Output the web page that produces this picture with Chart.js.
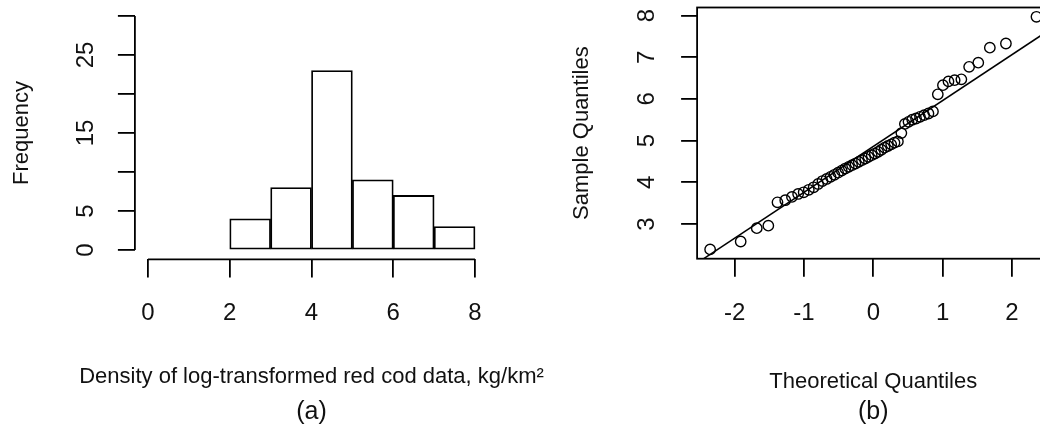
<!DOCTYPE html>
<html><head><meta charset="utf-8">
<script src="https://cdn.jsdelivr.net/npm/chart.js@4.4.1/dist/chart.umd.min.js"></script>
<style>
html,body{margin:0;padding:0;background:#fff;overflow:hidden;width:1040px;height:430px;}
#wrap{position:relative;width:1040px;height:430px;overflow:hidden;background:#fff;}
canvas{position:absolute;top:0;}
#c1{left:0;} #c2{left:520px;}
</style></head><body>
<div id="wrap"><canvas id="c1" width="623" height="430"></canvas><canvas id="c2" width="540" height="430"></canvas></div>
<script>
// ---- (a) histogram data ----
const histBinCenters = [2.5, 3.5, 4.5, 5.5, 6.5, 7.5];
const histCounts = [4, 8, 23, 9, 7, 3];
const histXTicks = [0, 2, 4, 6, 8];
const histYTicks = [0, 5, 10, 15, 20, 25, 30];
const histYLabels = ['0', '5', '', '15', '', '25', ''];

// ---- (b) normal Q-Q plot data ----
const qqTheoretical = [-2.355, -1.914, -1.682, -1.515, -1.383, -1.271, -1.174, -1.085, -1.005, -0.931,
  -0.861, -0.796, -0.734, -0.674, -0.617, -0.562, -0.508, -0.456, -0.405, -0.355,
  -0.306, -0.258, -0.210, -0.163, -0.116, -0.070, -0.023, 0.023, 0.070, 0.116,
  0.163, 0.210, 0.258, 0.306, 0.355, 0.405, 0.456, 0.508, 0.562, 0.617,
  0.674, 0.734, 0.796, 0.861, 0.931, 1.005, 1.085, 1.174, 1.271, 1.383,
  1.515, 1.682, 1.914, 2.355];
const qqSample = [2.39, 2.58, 2.90, 2.96, 3.52, 3.57, 3.65, 3.72, 3.76, 3.82,
  3.88, 3.96, 4.03, 4.08, 4.13, 4.18, 4.23, 4.28, 4.33, 4.37,
  4.41, 4.45, 4.49, 4.53, 4.57, 4.61, 4.65, 4.69, 4.73, 4.78,
  4.83, 4.87, 4.91, 4.95, 4.98, 5.18, 5.40, 5.45, 5.50, 5.53,
  5.57, 5.61, 5.65, 5.70, 6.11, 6.33, 6.42, 6.45, 6.47, 6.77,
  6.87, 7.23, 7.33, 7.97];
const qqLineX = [-2.6, 2.6];
const qqLineY = [2.0, 7.72];
const qqXTicks = [-2, -1, 0, 1, 2];
const qqYTicks = [3, 4, 5, 6, 7, 8];

Chart.defaults.font.family = '"Liberation Sans", Arial, Helvetica, sans-serif';
Chart.defaults.color = '#111';

const LW = 1.8;
const tickGrid = (len) => ({display: true, drawOnChartArea: false, drawTicks: true, tickLength: len, color: '#000', lineWidth: LW, offset: false});

const histAxes = {
  id: 'histAxes',
  afterDatasetsDraw(chart) {
    const {ctx, chartArea: a, scales: {x, y}} = chart;
    ctx.save();
    ctx.strokeStyle = '#000';
    ctx.lineWidth = LW;
    ctx.beginPath();
    ctx.moveTo(x.getPixelForValue(histXTicks[0]), a.bottom);
    ctx.lineTo(x.getPixelForValue(histXTicks[histXTicks.length - 1]), a.bottom);
    ctx.moveTo(a.left, y.getPixelForValue(histYTicks[0]));
    ctx.lineTo(a.left, y.getPixelForValue(histYTicks[histYTicks.length - 1]));
    ctx.stroke();
    ctx.restore();
  }
};

const qqBox = {
  id: 'qqBox',
  afterDatasetsDraw(chart) {
    const {ctx, chartArea: a} = chart;
    ctx.save();
    ctx.strokeStyle = '#000';
    ctx.lineWidth = LW;
    ctx.strokeRect(a.left, a.top, a.right - a.left, a.bottom - a.top);
    ctx.restore();
  }
};

new Chart(document.getElementById('c1'), {
  type: 'bar',
  data: {
    datasets: [{
      data: histBinCenters.map((x, i) => ({x: x, y: histCounts[i]})),
      backgroundColor: '#fff',
      borderColor: '#000',
      borderWidth: LW,
      borderSkipped: false,
      categoryPercentage: 1,
      barPercentage: 1
    }]
  },
  options: {
    responsive: false, devicePixelRatio: 1, animation: false, events: [],
    layout: {padding: {left: 0, right: 0, top: 6.64, bottom: 0}},
    plugins: {
      legend: {display: false}, tooltip: {enabled: false},
      title: {display: true, text: '(a)', position: 'bottom',
        font: {size: 25, weight: 'normal'}, color: '#111', padding: {top: 0, bottom: 3}},
      subtitle: {display: true, text: 'Density of log-transformed red cod data, kg/km²', position: 'bottom',
        font: {size: 22, weight: 'normal'}, color: '#111', padding: {top: 0, bottom: 6.8}}
    },
    scales: {
      x: {
        type: 'linear', min: -0.32, max: 8.32, offset: false,
        afterBuildTicks: s => { s.ticks = histXTicks.map(v => ({value: v})); },
        afterFit: s => { s.height = 104.4; s.paddingLeft = 0; s.paddingRight = 0; },
        grid: tickGrid(18), border: {display: false},
        ticks: {font: {size: 24}, padding: 21.2, maxRotation: 0, minRotation: 0, autoSkip: false, color: '#111', callback: v => String(v)}
      },
      y: {
        type: 'linear', min: -1.2, max: 31.2,
        afterBuildTicks: s => { s.ticks = histYTicks.map(v => ({value: v})); },
        afterFit: s => { s.width = 134.9; s.paddingTop = 0; s.paddingBottom = 0; },
        grid: tickGrid(17), border: {display: false},
        ticks: {font: {size: 24}, padding: 18.55, minRotation: 90, maxRotation: 90, crossAlign: 'center', autoSkip: false, color: '#111',
          callback: (v, i) => histYLabels[i]},
        title: {display: true, text: 'Frequency', font: {size: 22}, padding: {top: 9.1, bottom: 0}, color: '#111'}
      },
      yR: {
        type: 'linear', position: 'right', display: true,
        afterFit: s => { s.width = 134.9; s.paddingTop = 0; s.paddingBottom = 0; },
        grid: {display: false}, border: {display: false}, ticks: {display: false}
      }
    }
  },
  plugins: [histAxes]
});

new Chart(document.getElementById('c2'), {
  type: 'scatter',
  data: {
    datasets: [{
      type: 'line',
      data: qqLineX.map((x, i) => ({x: x, y: qqLineY[i]})),
      borderColor: '#000', borderWidth: 1.5, pointRadius: 0, fill: false, tension: 0, showLine: true, order: 0
    }, {
      data: qqTheoretical.map((q, i) => ({x: q, y: qqSample[i]})),
      pointStyle: 'circle', pointRadius: 5.2, backgroundColor: 'rgba(0,0,0,0)',
      borderColor: '#000', borderWidth: 1.4, order: 1
    }]
  },
  options: {
    responsive: false, devicePixelRatio: 1, animation: false, events: [],
    layout: {padding: {left: 0, right: 10.5, top: 7.5, bottom: 0}},
    plugins: {
      legend: {display: false}, tooltip: {enabled: false},
      title: {display: true, text: '(b)', position: 'bottom', fullSize: false,
        font: {size: 25, weight: 'normal'}, color: '#111', padding: {top: 0, bottom: 3}}
    },
    scales: {
      x: {
        type: 'linear', min: -2.543, max: 2.543,
        afterBuildTicks: s => { s.ticks = qqXTicks.map(v => ({value: v})); },
        afterFit: s => { s.height = 138.3; s.paddingLeft = 0; s.paddingRight = 0; },
        grid: tickGrid(18), border: {display: false},
        ticks: {font: {size: 24}, padding: 21.9, maxRotation: 0, minRotation: 0, autoSkip: false, color: '#111', callback: v => String(v)},
        title: {display: true, text: 'Theoretical Quantiles', font: {size: 22}, padding: {top: 0, bottom: 1.8}, color: '#111'}
      },
      y: {
        type: 'linear', min: 2.167, max: 8.193,
        afterBuildTicks: s => { s.ticks = qqYTicks.map(v => ({value: v})); },
        afterFit: s => { s.width = 177.1; s.paddingTop = 0; s.paddingBottom = 0; },
        grid: tickGrid(16), border: {display: false},
        ticks: {font: {size: 24}, padding: 27.4, minRotation: 90, maxRotation: 90, crossAlign: 'center', autoSkip: false, color: '#111',
          callback: v => String(v)},
        title: {display: true, text: 'Sample Quantiles', font: {size: 22}, padding: {top: 48.5, bottom: 0}, color: '#111'}
      }
    }
  },
  plugins: [qqBox]
});
</script>
</body></html>
